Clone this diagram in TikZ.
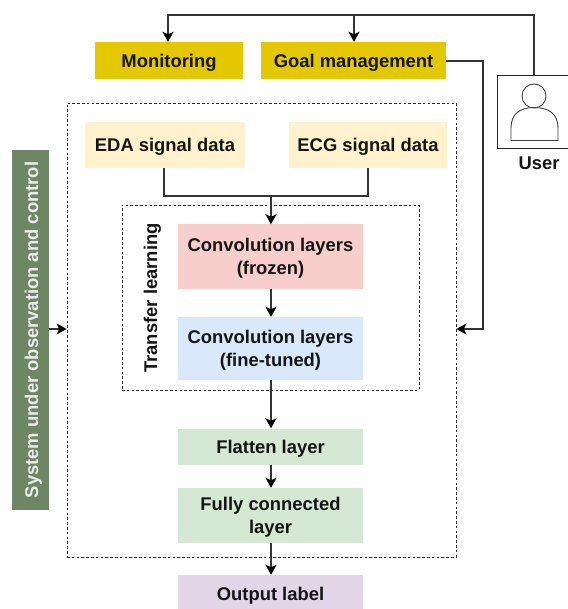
\documentclass[tikz,border=0pt]{standalone}
\usepackage{fontspec}
\setmainfont{Liberation Sans}
\usetikzlibrary{arrows.meta,calc}
\definecolor{yel}{HTML}{E3C800}
\definecolor{cream}{HTML}{FFF2CC}
\definecolor{pinkb}{HTML}{F8CECC}
\definecolor{blueb}{HTML}{DAE8FC}
\definecolor{greenb}{HTML}{D5E8D4}
\definecolor{purpb}{HTML}{E1D5E7}
\definecolor{sideg}{HTML}{6D8764}
\tikzset{
  x=1pt,y=-1pt,
  box/.style={inner sep=0pt,align=center,font=\fontsize{18.4}{22.5}\selectfont\bfseries,text=black!92,text depth=0pt},
  dashbox/.style={draw=black!85,line width=0.8pt,dash pattern=on 2.6pt off 2.2pt,inner sep=0pt},
  conn/.style={draw=black!80,line width=2pt},
  arr/.style={conn,-{Stealth[length=10pt,width=11pt,inset=2.5pt,fill=black,color=black]}},
}
\begin{document}
\begin{tikzpicture}
\useasboundingbox (0,0) rectangle (567,609);
\path[fill=white] (0,0) rectangle (567,609);
% dashed frames
\node[dashbox,minimum width=389pt,minimum height=454pt] (outer) at (261.5,330) {};
\node[dashbox,minimum width=297pt,minimum height=185pt] (tl) at (270.5,297.5) {};
% boxes
\node[box,fill=yel,minimum width=148pt,minimum height=37pt] (mon) at (169,60.5) {Monitoring};
\node[box,fill=yel,minimum width=185pt,minimum height=37pt] (goal) at (353.5,60.5) {Goal management};
\node[box,fill=cream,minimum width=160pt,minimum height=46pt] (eda) at (165,145) {EDA signal data};
\node[box,fill=cream,minimum width=158pt,minimum height=46pt] (ecg) at (368,145) {ECG signal data};
\node[box,fill=pinkb,minimum width=185pt,minimum height=64pt] (frozen) at (270.5,256.5) {Convolution layers\\(frozen)};
\node[box,fill=blueb,minimum width=185pt,minimum height=63pt] (fine) at (270.5,348.5) {Convolution layers\\(fine-tuned)};
\node[box,fill=greenb,minimum width=185pt,minimum height=36pt] (flat) at (270.5,446.5) {Flatten layer};
\node[box,fill=greenb,minimum width=185pt,minimum height=55pt] (fc) at (270.5,515.5) {Fully connected\\layer};
\node[box,fill=purpb,minimum width=185pt,minimum height=38pt] (out) at (270.5,594) {Output label};
\node[box,fill=sideg,minimum width=37pt,minimum height=360pt] (side) at (30.5,330) {};
\node[box,text=white!92!black,rotate=90] (sidet) at (31.5,330) {System under observation and control};
\node[box,rotate=90] (tlt) at (150.5,298) {Transfer learning};
% user
\node[draw=black!85,line width=1pt,fill=white,minimum width=74pt,minimum height=73pt,inner sep=0pt] (user) at (534,112.5) {};
\node[box,anchor=north] (usert) at (539,157) {User};
\draw[black!75,line width=0.9pt] (534,96) circle (12);
\draw[black!75,line width=0.9pt] (511,140.5) -- (511,128) .. controls (511,114) and (520,107.5) .. (534,107.5) .. controls (549,107.5) and (558,114) .. (558,128) -- (558,140.5) -- cycle;
% connectors
\coordinate (corner) at (534,15);
\coordinate (mid) at (354,15);
\coordinate (gr) at (483,61);
\coordinate (merge) at (271,196);
\draw[arr] (user.north) -- (corner) -| ([xshift=-1pt]mon.north);
\draw[arr] (mid) -- (mid |- goal.north);
\draw[arr] (goal.east |- gr) -- (gr) |- (outer.east |- 0,329);
\draw[arr] (side.east |- 0,329) -- (outer.west |- 0,329);
\draw[conn] ([xshift=-1pt]eda.south) |- (merge);
\draw[conn] (ecg.south) |- (merge);
\draw[arr] (merge) -- (merge |- frozen.north);
\draw[arr] (merge |- frozen.south) -- (merge |- fine.north);
\draw[conn] (merge |- fine.south) -- (merge |- tl.south);
\draw[arr] (merge |- tl.south) -- (merge |- flat.north);
\draw[arr] (merge |- flat.south) -- (merge |- fc.north);
\draw[arr] (merge |- fc.south) -- (merge |- out.north);
\end{tikzpicture}
\end{document}
